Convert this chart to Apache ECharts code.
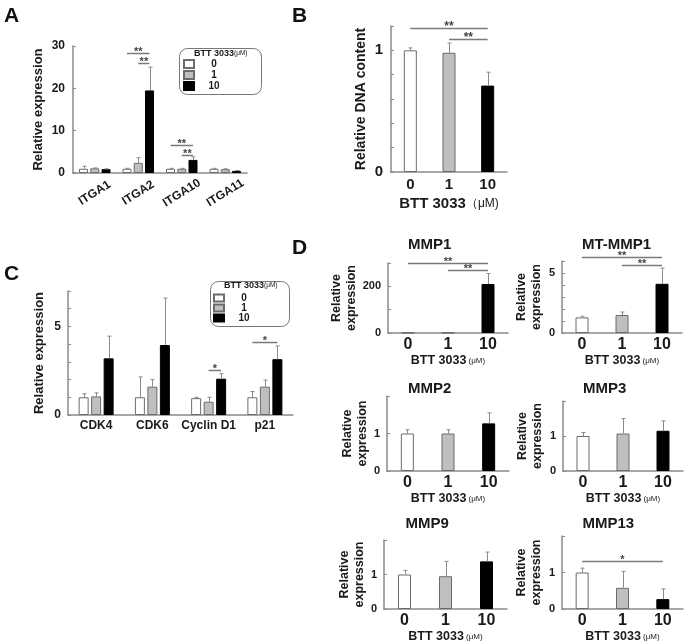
<!DOCTYPE html>
<html><head><meta charset="utf-8">
<script src="https://cdn.jsdelivr.net/npm/echarts@6/dist/echarts.min.js"></script>
<style>html,body{margin:0;padding:0;background:#fff}#c{width:685px;height:644px}</style>
</head><body><div id="c"></div>
<script>
// ---------------- DATA ----------------
const doses = ['0', '1', '10'];
const doseUnit = 'BTT 3033';

// Panel A: integrin expression
const itgaGenes = ['ITGA1', 'ITGA2', 'ITGA10', 'ITGA11'];
const itgaMean0 = [1.0, 1.0, 1.0, 1.0];
const itgaMean1 = [1.1, 2.4, 1.0, 0.9];
const itgaMean10 = [0.9, 19.5, 3.1, 0.5];
const itgaSd0 = [0.6, 0.1, 0.1, 0.1];
const itgaSd1 = [0.1, 1.2, 0.1, 0.1];
const itgaSd10 = [0.1, 5.5, 0.7, 0.1];
const itgaYTicks = [0, 10, 20, 30];
// [gene index, from dose, to dose, y, label]
const itgaSig = [[1, 0, 2, 28.4, '**'], [1, 1, 2, 26.0, '**'], [2, 0, 2, 6.6, '**'], [2, 1, 2, 4.3, '**']];

// Panel B: relative DNA content
const dnaMean = [1.0, 0.98, 0.71];
const dnaSd = [0.02, 0.08, 0.11];
const dnaYTicks = [0, 1];
const dnaSig = [[0, 2, 1.18, '**'], [1, 2, 1.09, '**']];

// Panel C: cell cycle genes
const ccGenes = ['CDK4', 'CDK6', 'Cyclin D1', 'p21'];
const ccMean0 = [1.0, 1.0, 0.95, 1.0];
const ccMean1 = [1.05, 1.6, 0.75, 1.6];
const ccMean10 = [3.2, 3.95, 2.05, 3.15];
const ccSd0 = [0.2, 1.15, 0.05, 0.33];
const ccSd1 = [0.2, 0.4, 0.25, 0.37];
const ccSd10 = [1.25, 2.65, 0.28, 0.75];
const ccYTicks = [0, 5];
const ccSig = [[2, 1, 2, 2.55, '*'], [3, 0, 2, 4.12, '*']];

// Panel D: MMPs
const mmpNames = ['MMP1', 'MT-MMP1', 'MMP2', 'MMP3', 'MMP9', 'MMP13'];
const mmp1Mean = [1, 1, 210];      const mmp1Sd = [0, 0, 45];
const mtmmp1Mean = [1.3, 1.5, 4.1]; const mtmmp1Sd = [0.1, 0.25, 1.3];
const mmp2Mean = [1.0, 1.0, 1.27]; const mmp2Sd = [0.1, 0.1, 0.28];
const mmp3Mean = [1.0, 1.07, 1.15]; const mmp3Sd = [0.1, 0.43, 0.28];
const mmp9Mean = [1.0, 0.95, 1.38]; const mmp9Sd = [0.12, 0.43, 0.27];
const mmp13Mean = [1.0, 0.58, 0.27]; const mmp13Sd = [0.12, 0.45, 0.28];
const mmp1YTicks = [0, 200];
const mtmmp1YTicks = [0, 5];
const mmpUnitYTicks = [0, 1];
const mmp1Sig = [[0, 2, 300, '**'], [1, 2, 270, '**']];
const mtmmp1Sig = [[0, 2, 6.35, '**'], [1, 2, 5.65, '**']];
const mmp13Sig = [[0, 2, 1.32, '*']];

// ---------------- STYLE ----------------
const FONT = "'Liberation Sans', Arial, Helvetica, sans-serif";
const AX = '#8a8a8a';
const fills = ['#ffffff', '#bfbfbf', '#000000'];
const strokes = ['#6b6b6b', '#6b6b6b', '#000000'];
const ERR = '#8a8a8a';

const option = {
  animation: false, backgroundColor: '#ffffff',
  textStyle: { fontFamily: FONT, color: '#1a1a1a' },
  grid: [], xAxis: [], yAxis: [], series: [], legend: [], graphic: []
};

function tickFmt(list) {
  return v => list.some(t => Math.abs(t - v) < 1e-6) ? String(Math.round(v * 1000) / 1000) : '';
}

function addAxes(gi, grid, cats, yMax, yInt, yTicks, o) {
  option.grid.push(Object.assign({ containLabel: false }, grid));
  option.xAxis.push({
    type: 'category', gridIndex: gi, data: cats,
    axisLine: { lineStyle: { color: AX, width: 1.5 } },
    axisTick: { show: false },
    axisLabel: Object.assign({ interval: 0, color: '#1a1a1a', fontWeight: 'bold', fontFamily: FONT }, o.xLabel),
    name: o.xName || '', nameLocation: 'middle', nameGap: o.xNameGap || 20,
    nameTextStyle: o.xNameStyle || {}
  });
  option.yAxis.push({
    type: 'value', gridIndex: gi, min: 0, max: yMax, interval: yInt,
    splitLine: { show: false },
    axisLine: { show: true, lineStyle: { color: AX, width: 1.5 } },
    axisTick: { show: true, inside: true, length: 3, lineStyle: { color: AX } },
    axisLabel: Object.assign({ color: '#1a1a1a', fontWeight: 'bold', fontFamily: FONT, formatter: tickFmt(yTicks), showMaxLabel: true, showMinLabel: true }, o.yLabel),
    name: o.yName || '', nameLocation: 'middle', nameGap: o.yNameGap || 20,
    nameTextStyle: Object.assign({ color: '#1a1a1a', fontWeight: 'bold', fontFamily: FONT }, o.yNameStyle)
  });
}

function errSeries(gi, means, sds, offset) {
  return {
    type: 'custom', xAxisIndex: gi, yAxisIndex: gi, z: 5, silent: true,
    data: means.map((m, i) => [i, m, sds[i]]),
    renderItem(params, api) {
      const x = api.value(0), m = api.value(1), s = api.value(2);
      if (!(s > 0)) return null;
      const p0 = api.coord([x, m]);
      const p1 = api.coord([x, m + s]);
      const cx = Math.round(p0[0] + offset) + 0.5;
      return { type: 'group', children: [
        { type: 'line', shape: { x1: cx, y1: p0[1], x2: cx, y2: p1[1] }, style: { stroke: ERR, lineWidth: 1 } },
        { type: 'line', shape: { x1: cx - 2, y1: p1[1], x2: cx + 2, y2: p1[1] }, style: { stroke: ERR, lineWidth: 1 } }
      ] };
    }
  };
}

function sigSeries(gi, list, fs) {
  return {
    type: 'custom', xAxisIndex: gi, yAxisIndex: gi, z: 6, silent: true, clip: false,
    data: list.map(s => [s.c1, s.y]),
    renderItem(params, api) {
      const s = list[params.dataIndex];
      const y = Math.round(api.coord([s.c1, s.y])[1]) + 0.5;
      const x1 = api.coord([s.c1, s.y])[0] + s.o1;
      const x2 = api.coord([s.c2, s.y])[0] + s.o2;
      return { type: 'group', children: [
        { type: 'line', shape: { x1: x1, y1: y, x2: x2, y2: y }, style: { stroke: '#7a7a7a', lineWidth: 1.5 } },
        { type: 'text', style: { text: s.label, x: (x1 + x2) / 2, y: y + 4, align: 'center', verticalAlign: 'bottom',
          fontSize: fs || 11, fontWeight: 'bold', fontFamily: FONT, fill: '#444' } }
      ] };
    }
  };
}

function groupedPanel(gi, means, sds, sig, barW, gap) {
  const step = barW * (1 + gap);
  const offs = [-step, 0, step];
  means.forEach((m, k) => {
    option.series.push({
      type: 'bar', name: doses[k], xAxisIndex: gi, yAxisIndex: gi, data: m,
      barWidth: barW, barGap: (gap * 100) + '%',
      itemStyle: { color: fills[k], borderColor: strokes[k], borderWidth: 1 }, z: 2
    });
  });
  means.forEach((m, k) => option.series.push(errSeries(gi, m, sds[k], offs[k])));
  option.series.push(sigSeries(gi, sig.map(s => ({ c1: s[0], o1: offs[s[1]], c2: s[0], o2: offs[s[2]], y: s[3], label: s[4] }))));
}

function singlePanel(gi, mean, sd, sig, barW, fs) {
  option.series.push({
    type: 'bar', xAxisIndex: gi, yAxisIndex: gi, barWidth: barW,
    data: mean.map((v, i) => ({ value: v, itemStyle: { color: fills[i], borderColor: strokes[i], borderWidth: 1 } })),
    z: 2
  });
  option.series.push(errSeries(gi, mean, sd, 0));
  if (sig.length) option.series.push(sigSeries(gi, sig.map(s => ({ c1: s[0], o1: 0, c2: s[1], o2: 0, y: s[2], label: s[3] })), fs));
}

// ---------------- PANEL A ----------------
addAxes(0, { left: 73, top: 46, width: 174, height: 127 }, itgaGenes, 30, 10, itgaYTicks, {
  xLabel: { rotate: 32, align: 'center', verticalAlign: 'middle', margin: 20, fontSize: 12 },
  yLabel: { fontSize: 12, margin: 8 },
  yName: 'Relative expression', yNameGap: 28, yNameStyle: { fontSize: 13 }
});
groupedPanel(0, [itgaMean0, itgaMean1, itgaMean10], [itgaSd0, itgaSd1, itgaSd10], itgaSig, 9, 0.25);

// ---------------- PANEL B ----------------
addAxes(1, { left: 391, top: 26, width: 116, height: 146 }, doses, 1.2, 0.2, dnaYTicks, {
  xLabel: { fontSize: 15, margin: 5 },
  yLabel: { fontSize: 15, margin: 8 },
  xName: '{a|' + doseUnit + '}{b|（μM)}', xNameGap: 24,
  xNameStyle: { rich: { a: { fontSize: 15, fontWeight: 'bold', fontFamily: FONT, color: '#1a1a1a' }, b: { fontSize: 12, fontFamily: FONT, color: '#1a1a1a' } } },
  yName: 'Relative DNA content', yNameGap: 23, yNameStyle: { fontSize: 14 }
});
singlePanel(1, dnaMean, dnaSd, dnaSig, 13, 12);

// ---------------- PANEL C ----------------
addAxes(2, { left: 68, top: 291, width: 225, height: 124 }, ccGenes, 7, 1, ccYTicks, {
  xLabel: { fontSize: 12, margin: 5 },
  yLabel: { fontSize: 12, margin: 7 },
  yName: 'Relative expression', yNameGap: 22, yNameStyle: { fontSize: 13 }
});
groupedPanel(2, [ccMean0, ccMean1, ccMean10], [ccSd0, ccSd1, ccSd10], ccSig, 10, 0.25);

// ---------------- PANEL D ----------------
const dGrids = [
  { left: 388, top: 263, width: 120, height: 70 },
  { left: 562, top: 261, width: 120, height: 72 },
  { left: 387, top: 396, width: 122, height: 75 },
  { left: 563, top: 401, width: 120, height: 70 },
  { left: 384, top: 540, width: 123, height: 70 },
  { left: 562, top: 536, width: 121, height: 74 }
];
const dMeans = [mmp1Mean, mtmmp1Mean, mmp2Mean, mmp3Mean, mmp9Mean, mmp13Mean];
const dSds = [mmp1Sd, mtmmp1Sd, mmp2Sd, mmp3Sd, mmp9Sd, mmp13Sd];
const dSigs = [mmp1Sig, mtmmp1Sig, [], [], [], mmp13Sig];
const dTicks = [mmp1YTicks, mtmmp1YTicks, mmpUnitYTicks, mmpUnitYTicks, mmpUnitYTicks, mmpUnitYTicks];
const dMax = [300, 6, 2, 2, 2, 2];
const dInt = [100, 1, 1, 1, 1, 1];
const dTitleY = [237, 237, 381, 381, 516, 516];

dGrids.forEach((g, j) => {
  const gi = 3 + j;
  addAxes(gi, g, doses, dMax[j], dInt[j], dTicks[j], {
    xLabel: { fontSize: 16, margin: 4 },
    yLabel: { fontSize: 11, margin: 7 },
    xName: '{a|' + doseUnit + '}{b| (μM)}', xNameGap: 21,
    xNameStyle: { rich: { a: { fontSize: 12.5, fontWeight: 'bold', fontFamily: FONT, color: '#1a1a1a' }, b: { fontSize: 8, fontFamily: FONT, color: '#1a1a1a' } } },
    yName: 'Relative\nexpression', yNameGap: j % 2 ? 18 : 17, yNameStyle: { fontSize: 12.5, lineHeight: 15 }
  });
  singlePanel(gi, dMeans[j], dSds[j], dSigs[j], 13, 11);
  option.graphic.push({ type: 'text', left: g.left + g.width / 2 - 40, top: dTitleY[j],
    style: { text: mmpNames[j], width: 80, align: 'center', fontSize: 15, fontWeight: 'bold', fontFamily: FONT, fill: '#1a1a1a' } });
});

// ---------------- LEGENDS & LABELS ----------------
function legendBox(x, y, w, h, tx, ty) {
  option.graphic.push({ type: 'rect', left: x, top: y, shape: { width: w, height: h, r: 8 }, style: { fill: 'none', stroke: '#777', lineWidth: 1 }, z: 10 });
  option.graphic.push({ type: 'text', left: tx, top: ty, z: 10,
    style: { rich: { a: { fontSize: 9, fontWeight: 'bold', fontFamily: FONT, fill: '#1a1a1a' }, b: { fontSize: 6.5, fontFamily: FONT, fill: '#1a1a1a' } },
      text: '{a|' + doseUnit + '}{b|(μM)}' } });
}
legendBox(177, 46, 82, 46, 194, 49);
legendBox(208, 279, 79, 45, 224, 281);

const legendCommon = { orient: 'vertical', data: doses, icon: 'rect', itemWidth: 10, itemHeight: 8, selectedMode: false,
  formatter: name => '{c|' + name + '}',
  textStyle: { fontSize: 10, fontWeight: 'bold', fontFamily: FONT, color: '#1a1a1a', lineHeight: 10,
    rich: { c: { width: 30, align: 'center', fontSize: 10, fontWeight: 'bold', fontFamily: FONT, color: '#1a1a1a', lineHeight: 10 } } } };
option.legend.push(Object.assign({}, legendCommon, { left: 178, top: 54, itemGap: 1 }));
option.legend.push(Object.assign({}, legendCommon, { left: 208, top: 288, itemGap: 0, itemHeight: 7 }));

[['A', 4, 6], ['B', 292, 6], ['C', 4, 264], ['D', 292, 238]].forEach(l => {
  option.graphic.push({ type: 'text', left: l[1], top: l[2], style: { text: l[0], fontSize: 21, fontWeight: 'bold', fontFamily: FONT, fill: '#111' } });
});

const chart = echarts.init(document.getElementById('c'), null, { renderer: 'canvas' });
chart.setOption(option);
</script></body></html>
